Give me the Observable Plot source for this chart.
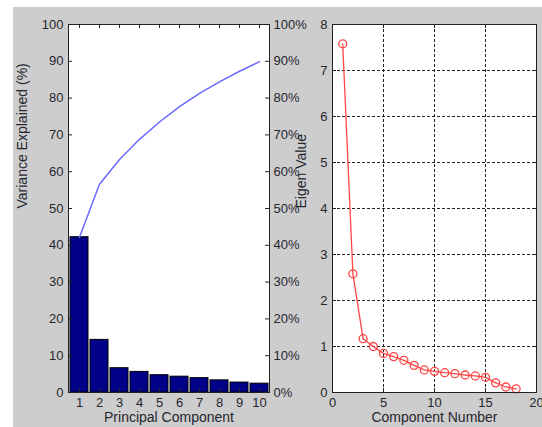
<!DOCTYPE html>
<html><head><meta charset="utf-8">
<script src="https://cdn.jsdelivr.net/npm/d3@7"></script>
<script src="https://cdn.jsdelivr.net/npm/@observablehq/plot@0.6"></script>
<style>
body{margin:0;background:#fff}
#wrap{position:relative;width:542px;height:427px;overflow:hidden;background:#fff}
#bg{position:absolute;left:13px;top:7px;width:529px;height:420px;background:#cdcdcd}
#wrap svg{position:absolute;left:0;top:0}
</style></head><body><div id="wrap"><div id="bg"></div></div>
<script>
// ---- data ----
const components = [1, 2, 3, 4, 5, 6, 7, 8, 9, 10];
const varianceExplained = [42.2, 14.3, 6.6, 5.6, 4.7, 4.3, 3.9, 3.3, 2.7, 2.4];
const cumulativeExplained = [42.2, 56.6, 63.3, 68.8, 73.5, 77.7, 81.3, 84.4, 87.3, 89.9];
const leftTicks = [0, 10, 20, 30, 40, 50, 60, 70, 80, 90, 100];
const percentTicks = [0, 10, 20, 30, 40, 50, 60, 70, 80, 90, 100];
const componentNumbers = [1, 2, 3, 4, 5, 6, 7, 8, 9, 10, 11, 12, 13, 14, 15, 16, 17, 18];
const eigenValues = [7.58, 2.58, 1.17, 1.0, 0.85, 0.78, 0.70, 0.59, 0.49, 0.46, 0.43, 0.41, 0.38, 0.36, 0.33, 0.21, 0.12, 0.08];
const eigenXTicks = [0, 5, 10, 15, 20];
const eigenYTicks = [0, 1, 2, 3, 4, 5, 6, 7, 8];

// ---- layout ----
const W = 542, H = 427;
const L = {left: 68, right: 269, top: 24, bottom: 392};
const R = {left: 332, right: 536, top: 24, bottom: 392};
const style = {background: "transparent", fontFamily: "Liberation Sans, Arial, sans-serif", fontSize: "13px", color: "#262630"};
const titleSize = 14;
const wrap = document.getElementById("wrap");

const lfw = L.right - L.left, lfh = L.bottom - L.top;
const bars = components.map((c, i) => ({c, v: varianceExplained[i], cum: cumulativeExplained[i]}));
const left = Plot.plot({
  width: W, height: H,
  marginLeft: L.left, marginRight: W - L.right, marginTop: L.top, marginBottom: H - L.bottom,
  style,
  x: {type: "band", domain: components, paddingInner: 0.1, paddingOuter: 0},
  y: {domain: [0, 100]},
  marks: [
    Plot.frame({fill: "white"}),
    Plot.barY(bars, {x: "c", y: "v", fill: "#000088", stroke: "#000", strokeWidth: 1}),
    Plot.lineY(bars, {x: "c", y: "cum", stroke: "#6a6aff", strokeWidth: 1.5}),
    Plot.tickY(leftTicks, {y: d => d, insetRight: lfw - 4, stroke: "#222"}),
    Plot.tickY(percentTicks, {y: d => d, insetLeft: lfw - 4, stroke: "#222"}),
    Plot.tickX(components, {x: d => d, insetBottom: lfh - 4, stroke: "#222"}),
    Plot.tickX(components, {x: d => d, insetTop: lfh - 4, stroke: "#222"}),
    Plot.axisY({ticks: leftTicks, anchor: "left", tickSize: 0, tickPadding: 5, label: null}),
    Plot.axisY({ticks: percentTicks, anchor: "right", tickSize: 0, tickPadding: 4, tickFormat: d => d + "%", label: null}),
    Plot.axisX({ticks: components, anchor: "bottom", tickSize: 0, tickPadding: 5, label: null}),
    Plot.frame({stroke: "#222"}),
    Plot.text(["Variance Explained (%)"], {text: d => d, frameAnchor: "left", rotate: -90, dx: -46, fontSize: titleSize}),
    Plot.text(["Principal Component"], {text: d => d, frameAnchor: "bottom", dy: 29, fontSize: titleSize})
  ]
});
wrap.appendChild(left);

const rfw = R.right - R.left, rfh = R.bottom - R.top;
const eig = componentNumbers.map((c, i) => ({c, v: eigenValues[i]}));
const right = Plot.plot({
  width: W, height: H,
  marginLeft: R.left, marginRight: W - R.right, marginTop: R.top, marginBottom: H - R.bottom,
  style,
  x: {domain: [0, 20]},
  y: {domain: [0, 8]},
  marks: [
    Plot.frame({fill: "white"}),
    Plot.ruleX(eigenXTicks, {x: d => d, stroke: "#222", strokeDasharray: "3,2"}),
    Plot.ruleY(eigenYTicks, {y: d => d, stroke: "#222", strokeDasharray: "3,2"}),
    Plot.tickY(eigenYTicks, {y: d => d, insetRight: rfw - 4, stroke: "#222"}),
    Plot.tickY(eigenYTicks, {y: d => d, insetLeft: rfw - 4, stroke: "#222"}),
    Plot.tickX(eigenXTicks, {x: d => d, insetBottom: rfh - 4, stroke: "#222"}),
    Plot.tickX(eigenXTicks, {x: d => d, insetTop: rfh - 4, stroke: "#222"}),
    Plot.line(eig, {x: "c", y: "v", stroke: "#ff4545", strokeWidth: 1.3}),
    Plot.dot(eig, {x: "c", y: "v", r: 4, stroke: "#ff4545", strokeWidth: 1.3, fill: "none"}),
    Plot.axisY({ticks: eigenYTicks, anchor: "left", tickSize: 0, tickPadding: 5, label: null}),
    Plot.axisX({ticks: eigenXTicks, anchor: "bottom", tickSize: 0, tickPadding: 5, label: null}),
    Plot.frame({stroke: "#222"}),
    Plot.text(["Eigen Value"], {text: d => d, frameAnchor: "left", rotate: -90, dx: -31, fontSize: titleSize}),
    Plot.text(["Component Number"], {text: d => d, frameAnchor: "bottom", dy: 29, fontSize: titleSize})
  ]
});
wrap.appendChild(right);
</script>
</body></html>
